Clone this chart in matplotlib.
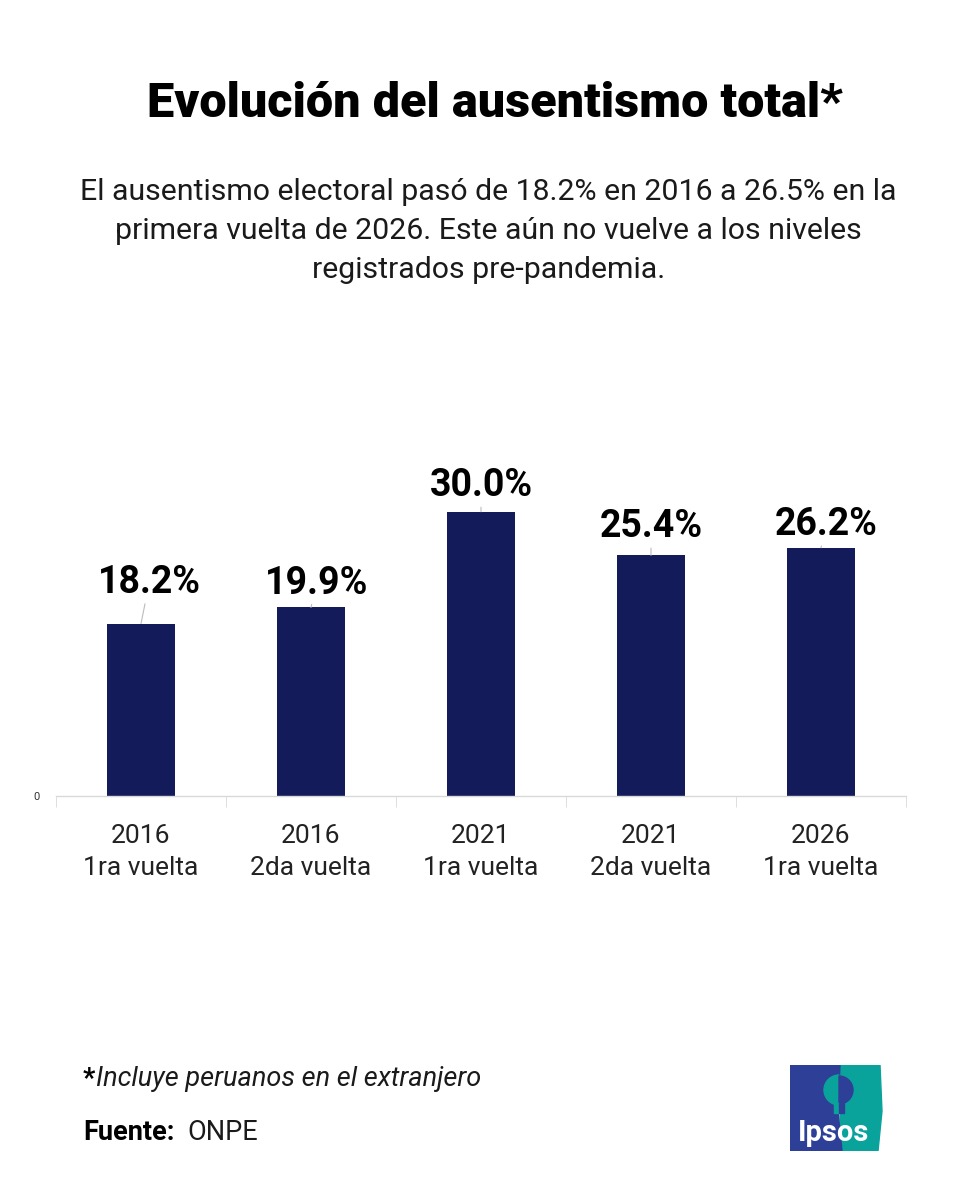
import matplotlib.pyplot as plt
from matplotlib.patches import Polygon, Wedge, Rectangle

plt.switch_backend('Agg')

# data
years = ['2016', '2016', '2021', '2021', '2026']
rounds = ['1ra vuelta', '2da vuelta', '1ra vuelta', '2da vuelta', '1ra vuelta']
values = [18.2, 19.9, 30.0, 25.4, 26.2]

BAR_COLOR = '#131b5a'
FONT = 'Roboto'

fig = plt.figure(figsize=(9.61, 12), dpi=100)
fig.patch.set_facecolor('white')

# chart area: baseline at y=796px, x axis from 56px to 906px
ax = fig.add_axes([56 / 961, 404 / 1200, 850 / 961, 379 / 1200])
x = range(len(values))
ax.bar(x, values, width=0.4, color=BAR_COLOR, zorder=2)
ax.set_xlim(-0.5, len(values) - 0.5)
ax.set_ylim(0, 40)

for side in ['top', 'right', 'left']:
    ax.spines[side].set_visible(False)
ax.spines['bottom'].set_color('#d9d9d9')
ax.spines['bottom'].set_linewidth(1)

ax.set_yticks([0])
ax.set_yticklabels(['0'], fontsize=8, color='#333333', family=FONT)
ax.tick_params(axis='y', length=0, pad=12)

ax.set_xticks([i - 0.5 for i in range(len(values) + 1)], minor=True)
ax.set_xticks(list(x))
ax.set_xticklabels([f'{y}\n{r}' for y, r in zip(years, rounds)],
                   fontsize=19, color='#222222', family=FONT, linespacing=1.45)
ax.tick_params(axis='x', which='major', length=0, pad=20)
ax.tick_params(axis='x', which='minor', length=8, color='#d9d9d9')

# value labels with thin leader lines
label_offsets = [(6, 22), (4, 10), (0, 11), (0, 13), (4, 9)]
for i, v in enumerate(values):
    dx, dy = label_offsets[i]
    ax.annotate(f'{v:.1f}%', xy=(i, v), xytext=(dx, dy),
                textcoords='offset points', ha='center', va='baseline',
                fontsize=27, fontweight='bold', family=FONT, color='black',
                arrowprops=dict(arrowstyle='-', color='#bbbbbb', lw=0.8,
                                shrinkA=0, shrinkB=0))

# title and subtitle
fig.text(0.515, 1 - 104 / 1200, 'Evolución del ausentismo total*', ha='center',
         va='center', fontsize=35, fontweight='black', family=FONT)
fig.text(0.508, 1 - 231 / 1200,
         'El ausentismo electoral pasó de 18.2% en 2016 a 26.5% en la\n'
         'primera vuelta de 2026. Este aún no vuelve a los niveles\n'
         'registrados pre-pandemia.',
         ha='center', va='center', fontsize=21.8, family=FONT,
         color='#1a1a1a', linespacing=1.5)

# footer
fig.text(83 / 961, 1 - 1079 / 1200, '*', ha='left', va='center', fontsize=19.5,
         fontweight='bold', family=FONT)
fig.text(96 / 961, 1 - 1079 / 1200, 'Incluye peruanos en el extranjero',
         ha='left', va='center', fontsize=19.5, style='italic', family=FONT,
         color='#1a1a1a')
fig.text(83 / 961, 1 - 1133 / 1200, 'Fuente:', ha='left', va='center',
         fontsize=19.5, fontweight='bold', family=FONT)
fig.text(187 / 961, 1 - 1133 / 1200, 'ONPE', ha='left', va='center',
         fontsize=19.5, family=FONT, color='#1a1a1a')

# Ipsos logo
logo = fig.add_axes([790 / 961, 1 - 1151 / 1200, 94 / 961, 86 / 1200])
logo.set_xlim(0, 94)
logo.set_ylim(0, 86)
logo.axis('off')
logo.add_patch(Polygon([(50, 0), (88, 0), (92, 40), (90, 86), (46, 86), (50, 40)],
                       closed=True, color='#0aa39b'))
logo.add_patch(Polygon([(0, 0), (52, 0), (48, 40), (50, 86), (0, 86)],
                       closed=True, color='#2e3f98'))
# head / tree silhouette split in two colours
logo.add_patch(Wedge((49, 61), 15, 90, 270, color='#0aa39b'))
logo.add_patch(Wedge((49, 61), 14, -90, 90, color='#2e3f98'))
logo.add_patch(Rectangle((44, 38), 5, 10, color='#0aa39b'))
logo.add_patch(Rectangle((49, 38), 5, 10, color='#2e3f98'))
logo.text(44, 18, 'Ipsos', ha='center', va='center', color='white',
          fontsize=21, fontweight='bold', family=FONT)

fig.savefig('out.png', dpi=100)
